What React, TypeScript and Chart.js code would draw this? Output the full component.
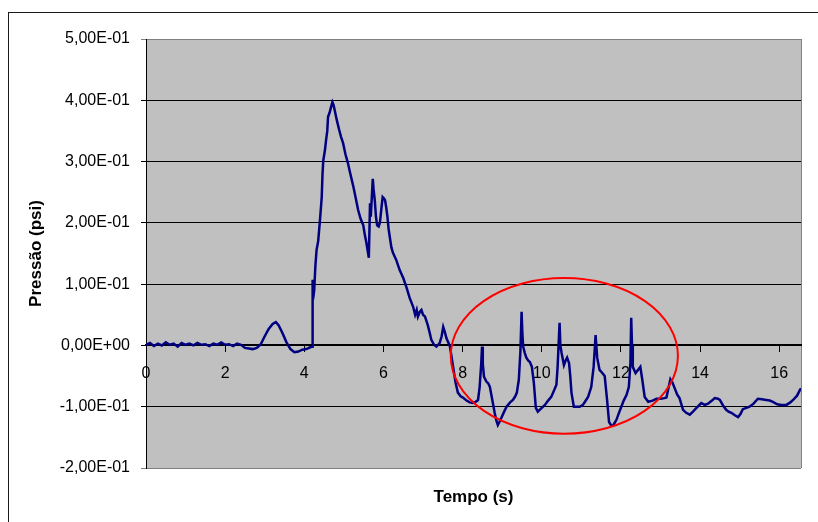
import React, { useEffect, useRef } from "react";
import { Chart, registerables } from "chart.js";

Chart.register(...registerables);

// --- Data (tempo em s, pressão em psi) ---
const tempoRepouso = [0, 0.1, 0.2, 0.3, 0.4, 0.5, 0.6, 0.7, 0.8, 0.9, 1.0, 1.1, 1.2, 1.3, 1.4, 1.5, 1.6, 1.7, 1.8, 1.9, 2.0, 2.1, 2.2, 2.3, 2.4,
  2.5, 2.6, 2.7, 2.8, 2.9, 3.0, 3.1, 3.2, 3.28, 3.35, 3.45, 3.55, 3.65, 3.75, 3.85, 3.95, 4.05, 4.15, 4.2];
const pressaoRepouso = [0.001, 0.004, -0.001, 0.003, 0.0, 0.005, 0.001, 0.003, -0.002, 0.004, 0.001, 0.003, 0.0, 0.004, 0.001, 0.002, -0.001, 0.003, 0.001, 0.005, 0.001, 0.002, -0.001, 0.003, 0.001,
  -0.004, -0.005, -0.006, -0.004, 0.002, 0.015, 0.027, 0.035, 0.038, 0.033, 0.02, 0.005, -0.006, -0.011, -0.01, -0.007, -0.006, -0.003, -0.002];

const tempoPico = [4.21, 4.22, 4.25, 4.28, 4.31, 4.35, 4.39, 4.42, 4.44, 4.46, 4.48, 4.52, 4.55, 4.58, 4.6, 4.64, 4.68, 4.71, 4.74, 4.78, 4.82, 4.88, 4.93, 4.98,
  5.04, 5.1, 5.17, 5.24, 5.3, 5.36, 5.42, 5.49, 5.53, 5.57, 5.6, 5.63, 5.65, 5.66, 5.68, 5.7, 5.73, 5.75, 5.78, 5.81, 5.84, 5.88, 5.91, 5.95, 5.98,
  6.01, 6.04, 6.07, 6.1, 6.13, 6.16, 6.2, 6.24, 6.32, 6.41, 6.5, 6.58, 6.66, 6.75, 6.8, 6.84, 6.87, 6.92, 6.96, 7.0, 7.05, 7.12, 7.17, 7.21, 7.28,
  7.34, 7.42, 7.47, 7.51, 7.55, 7.59, 7.65, 7.68];
const pressaoPico = [0.107, 0.075, 0.09, 0.13, 0.156, 0.17, 0.2, 0.225, 0.242, 0.28, 0.302, 0.318, 0.335, 0.35, 0.373, 0.38, 0.39, 0.397, 0.392, 0.38, 0.368, 0.352, 0.34, 0.33,
  0.312, 0.298, 0.278, 0.259, 0.24, 0.221, 0.207, 0.196, 0.18, 0.167, 0.155, 0.143, 0.2, 0.232, 0.21, 0.235, 0.272, 0.255, 0.237, 0.21, 0.196, 0.194, 0.2, 0.225, 0.242,
  0.24, 0.237, 0.225, 0.21, 0.19, 0.177, 0.16, 0.151, 0.14, 0.123, 0.11, 0.095, 0.078, 0.063, 0.05, 0.058, 0.047, 0.055, 0.058, 0.05, 0.047, 0.033, 0.02, 0.009, 0.001,
  -0.002, 0.004, 0.015, 0.03, 0.022, 0.012, 0.003, -0.002];

const tempoOscilacao = [7.76, 7.82, 7.88, 7.95, 8.01, 8.1, 8.18, 8.26, 8.33, 8.39, 8.43, 8.47, 8.49, 8.51, 8.54, 8.6, 8.65, 8.69, 8.75, 8.81, 8.85, 8.89, 8.93, 8.98,
  9.05, 9.11, 9.2, 9.27, 9.33, 9.37, 9.42, 9.46, 9.49, 9.51, 9.53, 9.57, 9.61, 9.66, 9.7, 9.75, 9.8, 9.85, 9.9, 9.98, 10.08, 10.16, 10.24, 10.32, 10.37, 10.4,
  10.45, 10.47, 10.5, 10.56, 10.6, 10.64, 10.69, 10.72, 10.75, 10.81, 10.88, 10.96, 11.04, 11.1, 11.17, 11.25, 11.31, 11.36, 11.4, 11.46, 11.53, 11.59, 11.65,
  11.7, 11.75, 11.8, 11.89, 11.95, 12.01, 12.07, 12.14, 12.2, 12.24, 12.26, 12.28, 12.3, 12.37, 12.43, 12.49, 12.54, 12.6, 12.69, 12.8, 12.9, 13.0, 13.1, 13.15];
const pressaoOscilacao = [-0.035, -0.06, -0.077, -0.083, -0.085, -0.09, -0.093, -0.094, -0.092, -0.089, -0.068, -0.03, -0.002, -0.03, -0.051, -0.059, -0.062, -0.068, -0.089, -0.11, -0.122, -0.13, -0.125, -0.118,
  -0.108, -0.1, -0.093, -0.089, -0.083, -0.077, -0.056, -0.01, 0.055, 0.02, -0.002, -0.012, -0.02, -0.025, -0.027, -0.035, -0.061, -0.102, -0.108, -0.103, -0.097, -0.09, -0.084, -0.072, -0.064, -0.035,
  0.037, 0.0, -0.012, -0.032, -0.025, -0.02, -0.029, -0.05, -0.077, -0.1, -0.1, -0.1, -0.097, -0.091, -0.084, -0.068, -0.035, 0.017, -0.02, -0.04, -0.045, -0.05, -0.089,
  -0.125, -0.13, -0.131, -0.121, -0.11, -0.1, -0.09, -0.081, -0.068, -0.029, 0.045, 0.0, -0.035, -0.045, -0.04, -0.035, -0.056, -0.084, -0.092, -0.09, -0.087, -0.087, -0.086, -0.085];

const tempoFinal = [13.2, 13.25, 13.3, 13.36, 13.42, 13.48, 13.57, 13.65, 13.74, 13.82, 13.91, 14.03, 14.12, 14.2, 14.3, 14.37, 14.45, 14.5, 14.58, 14.66, 14.72, 14.79,
  14.88, 14.96, 15.02, 15.08, 15.17, 15.25, 15.35, 15.46, 15.56, 15.67, 15.76, 15.84, 15.95, 16.05, 16.18, 16.28, 16.35, 16.45, 16.52, 16.55];
const pressaoFinal = [-0.07, -0.055, -0.06, -0.07, -0.08, -0.086, -0.105, -0.11, -0.113, -0.108, -0.102, -0.094, -0.097, -0.095, -0.09, -0.086, -0.087, -0.089, -0.098, -0.105, -0.108, -0.11,
  -0.114, -0.117, -0.112, -0.104, -0.102, -0.1, -0.095, -0.087, -0.088, -0.089, -0.09, -0.092, -0.096, -0.097, -0.097, -0.093, -0.089, -0.082, -0.073, -0.07];

const xTickValues = [0, 2, 4, 6, 8, 10, 12, 14, 16];
const xTickLabels = ["0", "2", "4", "6", "8", "10", "12", "14", "16"];
const yTickValues = [-0.2, -0.1, 0, 0.1, 0.2, 0.3, 0.4, 0.5];
const yTickLabels = ["-2,00E-01", "-1,00E-01", "0,00E+00", "1,00E-01", "2,00E-01", "3,00E-01", "4,00E-01", "5,00E-01"];

const xTitle = "Tempo (s)";
const yTitle = "Pressão (psi)";

// Red ellipse annotation, in data units
const elipseCentroX = 10.57;
const elipseCentroY = -0.017;
const elipseRaioX = 2.87;
const elipseRaioY = 0.127;

const FONT = "'Liberation Sans', Arial, sans-serif";

function buildPoints() {
  const t = [...tempoRepouso, ...tempoPico, ...tempoOscilacao, ...tempoFinal];
  const p = [...pressaoRepouso, ...pressaoPico, ...pressaoOscilacao, ...pressaoFinal];
  return t.map((x, i) => ({ x, y: p[i] }));
}

const decorPlugin = {
  id: "decor",
  beforeDraw(chart: any) {
    const { ctx, chartArea: a } = chart;
    ctx.save();
    ctx.fillStyle = "#ffffff";
    ctx.fillRect(0, 0, chart.width, chart.height);
    ctx.strokeStyle = "#1a1a1a";
    ctx.lineWidth = 1;
    ctx.strokeRect(8.5, 12.5, chart.width + 40, chart.height + 40);
    ctx.fillStyle = "#C0C0C0";
    ctx.fillRect(a.left, a.top, a.right - a.left, a.bottom - a.top);
    ctx.strokeStyle = "#808080";
    ctx.beginPath();
    ctx.moveTo(a.right + 0.5, a.top);
    ctx.lineTo(a.right + 0.5, a.bottom);
    ctx.stroke();
    ctx.restore();
  },
  afterDatasetsDraw(chart: any) {
    const { ctx } = chart;
    const xs = chart.scales.x;
    const ys = chart.scales.y;
    const cx = xs.getPixelForValue(elipseCentroX);
    const cy = ys.getPixelForValue(elipseCentroY);
    const rx = Math.abs(xs.getPixelForValue(elipseCentroX + elipseRaioX) - cx);
    const ry = Math.abs(ys.getPixelForValue(elipseCentroY + elipseRaioY) - cy);
    ctx.save();
    ctx.strokeStyle = "#FF0000";
    ctx.lineWidth = 2;
    ctx.beginPath();
    ctx.ellipse(cx, cy, rx, ry, 0, 0, Math.PI * 2);
    ctx.stroke();
    ctx.restore();
  },
  afterDraw(chart: any) {
    const { ctx, chartArea: a } = chart;
    ctx.save();
    ctx.fillStyle = "#000";
    ctx.font = `bold 17px ${FONT}`;
    ctx.textAlign = "center";
    ctx.textBaseline = "middle";
    ctx.fillText(xTitle, (a.left + a.right) / 2, 497);
    ctx.translate(36, (a.top + a.bottom) / 2);
    ctx.rotate(-Math.PI / 2);
    ctx.fillText(yTitle, 0, 0);
    ctx.restore();
  },
};

export default function App() {
  const canvasRef = useRef<HTMLCanvasElement | null>(null);

  useEffect(() => {
    if (!canvasRef.current) return;
    const chart = new Chart(canvasRef.current, {
      type: "scatter",
      data: {
        datasets: [
          {
            data: buildPoints(),
            showLine: true,
            borderColor: "#000080",
            backgroundColor: "#000080",
            borderWidth: 2.5,
            pointRadius: 0,
            tension: 0,
          },
        ],
      },
      options: {
        animation: false,
        responsive: true,
        maintainAspectRatio: false,
        layout: { padding: { left: 0, top: 39, right: 17, bottom: 54 } },
        plugins: { legend: { display: false }, tooltip: { enabled: false } },
        scales: {
          x: {
            type: "linear",
            position: { y: 0 },
            min: 0,
            max: 16.55,
            afterBuildTicks: (s: any) => {
              s.ticks = xTickValues.map((v) => ({ value: v }));
            },
            ticks: {
              callback: (_v: any, i: number) => xTickLabels[i],
              font: { family: FONT, size: 16 },
              color: "#000",
              padding: 13,
              maxRotation: 0,
              autoSkip: false,
            },
            grid: { display: true, drawOnChartArea: false, drawTicks: true, tickLength: 6, color: "#000", lineWidth: 1 },
            border: { display: true, color: "#000", width: 2 },
          },
          y: {
            type: "linear",
            min: -0.2,
            max: 0.5,
            afterBuildTicks: (s: any) => {
              s.ticks = yTickValues.map((v) => ({ value: v }));
            },
            afterFit: (s: any) => {
              s.width = 146;
            },
            ticks: {
              callback: (_v: any, i: number) => yTickLabels[i],
              font: { family: FONT, size: 16 },
              color: "#000",
              padding: 11,
              autoSkip: false,
            },
            grid: {
              drawTicks: true,
              tickLength: 5,
              color: (c: any) => (c.tick && (c.tick.value === 0.5 || c.tick.value === -0.2) ? "#808080" : "#000"),
              lineWidth: 1,
            },
            border: { display: true, color: "#000", width: 1 },
          },
        },
      },
      plugins: [decorPlugin],
    });
    return () => chart.destroy();
  }, []);

  return (
    <div style={{ position: "absolute", left: 0, top: 0, width: 818, height: 522 }}>
      <canvas ref={canvasRef} />
    </div>
  );
}
